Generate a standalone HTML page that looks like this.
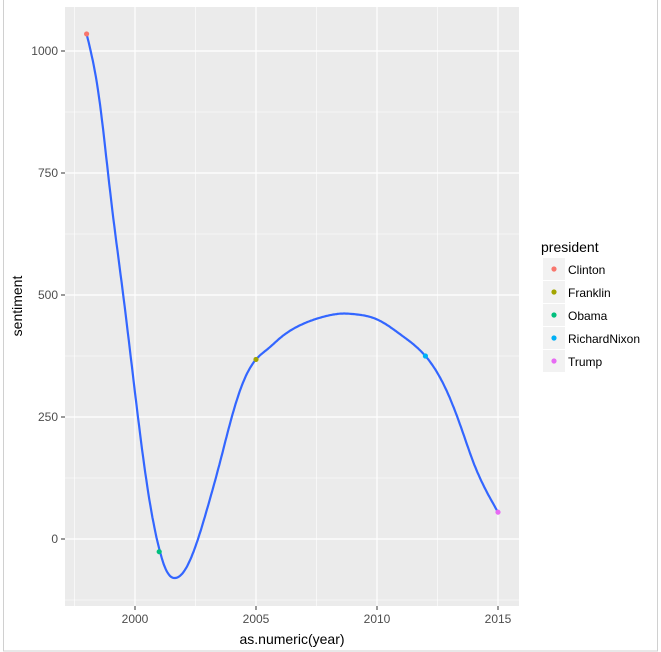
<!DOCTYPE html>
<html><head><meta charset="utf-8"><style>
body{margin:0;background:#fff;}
svg{display:block;font-family:"Liberation Sans",Arial,sans-serif;}
</style></head><body>
<svg id="chart" width="661" height="652" viewBox="0 0 661 652">
<rect x="3.5" y="-1" width="654" height="652" fill="none" stroke="#d0d0d0"/>
<rect x="65" y="7" width="454" height="599" fill="#ebebeb"/>
<g id="grid"></g>
<g id="axes"></g>
<path id="smooth" fill="none" stroke="#3366ff" stroke-width="2.2"/>
<g id="points"></g>
<text x="292" y="644" text-anchor="middle" font-size="14" fill="#000">as.numeric(year)</text>
<text transform="translate(22,306) rotate(-90)" text-anchor="middle" font-size="14" fill="#000">sentiment</text>
<g id="legend">
<text x="541" y="252" font-size="14" fill="#000">president</text>
</g>
</svg>
<script>
const presidents = ["Clinton","Franklin","Obama","RichardNixon","Trump"];
const colors = ["#f8766d","#a3a500","#00bf7d","#00b0f6","#e76bf3"];
const pointYears = [1998,2005,2001,2012,2015];
const pointValues = [1035,368,-26,375,55];
const curveYears = [1998,1998.5,1999,1999.5,2000,2000.5,2001,2001.3,2001.65,2002,2002.5,2003,2003.5,2004,2004.5,2005,2005.5,2006,2007,2008,2008.6,2009,2010,2011,2012,2012.5,2013,2013.5,2014,2014.5,2015];
const curveValues = [1035,910,700,505,300,110,-20,-65,-80,-68,-15,65,155,250,325,368,390,412,442,458,462,461,450,418,375,340,290,225,155,100,55];
const xTicks = [2000,2005,2010,2015];
const yTicks = [0,250,500,750,1000];
const xMinor = [1997.5,2002.5,2007.5,2012.5];
const yMinor = [-125,125,375,625,875];

const NS="http://www.w3.org/2000/svg";
const xs = v => 135 + (v-2000)*24.2;
const ys = v => 539 - v*0.488;
function mk(tag, attrs, parent){const e=document.createElementNS(NS,tag);for(const k in attrs)e.setAttribute(k,attrs[k]);parent.appendChild(e);return e;}
const grid=document.getElementById('grid'), axes=document.getElementById('axes');
xMinor.forEach(v=>{const l=mk('line',{x1:xs(v),x2:xs(v),y1:7,y2:606,stroke:'#fff','stroke-width':0.6},grid);

});
yMinor.forEach(v=>{const l=mk('line',{x1:65,x2:519,y1:ys(v),y2:ys(v),stroke:'#fff','stroke-width':0.6},grid);

});
xTicks.forEach(v=>{const l=mk('line',{x1:xs(v),x2:xs(v),y1:7,y2:606,stroke:'#fff','stroke-width':1.2},grid);


const t=mk('line',{x1:xs(v),x2:xs(v),y1:606,y2:610,stroke:'#333','stroke-width':1},axes);


const tx=mk('text',{x:xs(v),y:623,'text-anchor':'middle','font-size':12,fill:'#4d4d4d'},axes);tx.textContent=v;

});
yTicks.forEach(v=>{const l=mk('line',{x1:65,x2:519,y1:ys(v),y2:ys(v),stroke:'#fff','stroke-width':1.2},grid);


const t=mk('line',{x1:61,x2:65,y1:ys(v),y2:ys(v),stroke:'#333','stroke-width':1},axes);


const tx=mk('text',{x:58,y:ys(v)+4,'text-anchor':'end','font-size':12,fill:'#4d4d4d'},axes);tx.textContent=v;

});
// natural cubic spline through curve points
function spline(X,Y){const n=X.length,h=[],a=[],l=[1],mu=[0],z=[0],c=new Array(n).fill(0),b=[],d=[];
for(let i=0;i<n-1;i++)h.push(X[i+1]-X[i]);
for(let i=1;i<n-1;i++)a[i]=3/h[i]*(Y[i+1]-Y[i])-3/h[i-1]*(Y[i]-Y[i-1]);
for(let i=1;i<n-1;i++){l[i]=2*(X[i+1]-X[i-1])-h[i-1]*mu[i-1];mu[i]=h[i]/l[i];z[i]=(a[i]-h[i-1]*z[i-1])/l[i];}
for(let j=n-2;j>=0;j--){c[j]=(j>0?z[j]-mu[j]*c[j+1]:0);b[j]=(Y[j+1]-Y[j])/h[j]-h[j]*(c[j+1]+2*c[j])/3;d[j]=(c[j+1]-c[j])/(3*h[j]);}
c[0]=0;for(let j=0;j<n-1;j++){b[j]=(Y[j+1]-Y[j])/h[j]-h[j]*(c[j+1]+2*c[j])/3;d[j]=(c[j+1]-c[j])/(3*h[j]);}
return x=>{let j=0;while(j<n-2&&x>X[j+1])j++;const t=x-X[j];return Y[j]+b[j]*t+c[j]*t*t+d[j]*t*t*t;};}
const f=spline(curveYears,curveValues);
const x0=curveYears[0],x1=curveYears[curveYears.length-1];
let d='';for(let k=0;k<=400;k++){const x=x0+(x1-x0)*k/400;d+=(k?'L':'M')+xs(x).toFixed(1)+','+ys(f(x)).toFixed(1);}
document.getElementById('smooth').setAttribute('d',d);
const pts=document.getElementById('points');
pointYears.forEach((y,i)=>{const c=mk('circle',{cx:xs(y),cy:ys(pointValues[i]),r:2.6,fill:colors[i]},pts);

});
const lg=document.getElementById('legend');
presidents.forEach((p,i)=>{const y0=258+i*23;
const r=mk('rect',{x:543,y:y0,width:22,height:22,fill:'#f2f2f2'},lg);


const c=mk('circle',{cx:554,cy:y0+11,r:2.6,fill:colors[i]},lg);


const t=mk('text',{x:568,y:y0+16,'font-size':12,fill:'#000'},lg);t.textContent=p;

});
</script>
</body></html>
